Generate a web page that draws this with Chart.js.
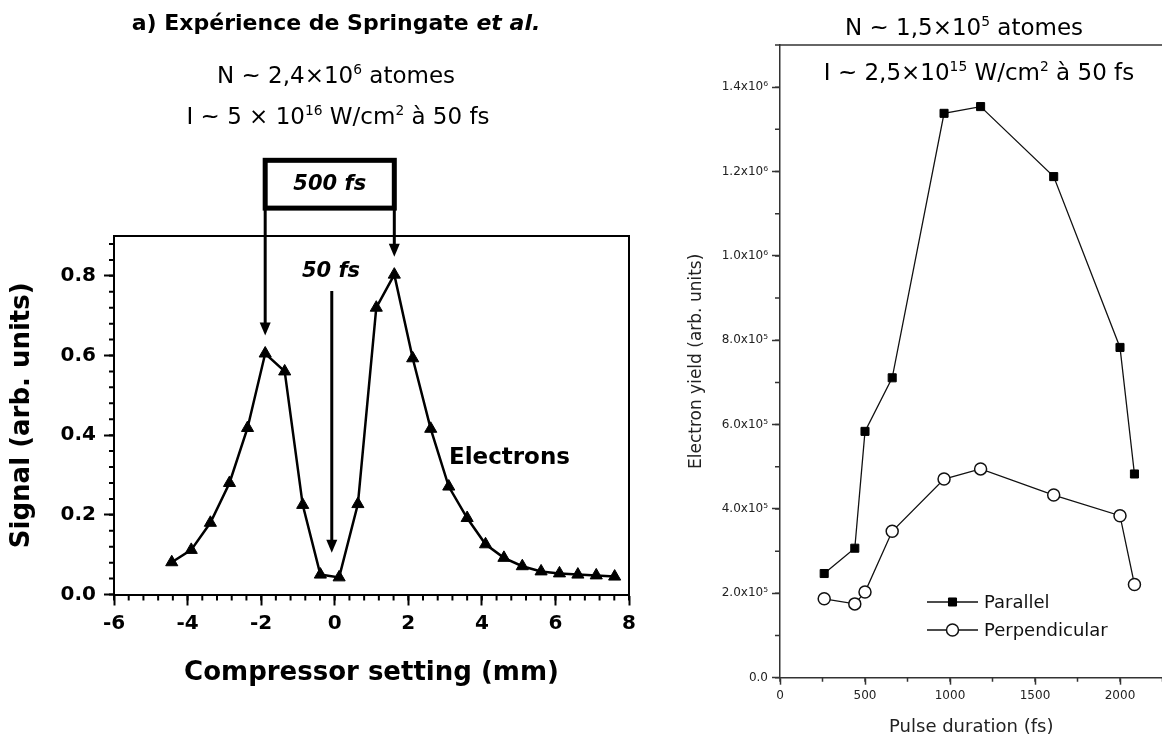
<!DOCTYPE html>
<html><head><meta charset="utf-8">
<script src="https://cdn.jsdelivr.net/npm/chart.js@4.4.1/dist/chart.umd.min.js"></script>
<style>
html,body{margin:0;padding:0;background:#fff;overflow:hidden;width:1162px;height:738px;}
#wrap{position:relative;width:1162px;height:738px;overflow:hidden;background:#fff;}
canvas{position:absolute;top:0;}
#cl{left:0;} #cr{left:660px;}
.t{position:absolute;transform:translate(-50%,-50%);white-space:nowrap;font-family:'DejaVu Sans';color:#000;line-height:1;}
.sup{font-size:0.6em;vertical-align:0.6em;}
</style></head>
<body><div id="wrap">
<canvas id="cl" width="660" height="738"></canvas>
<canvas id="cr" width="510" height="738"></canvas>
<div class="t" style="left:336px;top:23px;font-size:22px;font-weight:bold;">a) Expérience de Springate <i>et al.</i></div>
<div class="t" style="left:336px;top:75px;font-size:23px;">N ~ 2,4×10<span class="sup">6</span> atomes</div>
<div class="t" style="left:338px;top:116px;font-size:23px;">I ~ 5 × 10<span class="sup">16</span> W/cm<span class="sup">2</span> à 50 fs</div>
<div class="t" style="left:964px;top:27px;font-size:23px;">N ~ 1,5×10<span class="sup">5</span> atomes</div>
<div class="t" style="left:979px;top:72px;font-size:23px;">I ~ 2,5×10<span class="sup">15</span> W/cm<span class="sup">2</span> à 50 fs</div>
</div>
<script>
// ---------- Left chart data (Springate) ----------
const compressorSetting = [-4.43,-3.90,-3.38,-2.86,-2.37,-1.89,-1.36,-0.87,-0.39,0.12,0.63,1.13,1.62,2.12,2.61,3.10,3.60,4.10,4.60,5.10,5.61,6.11,6.61,7.11,7.61];
const electronSignal    = [0.081,0.112,0.180,0.280,0.418,0.605,0.560,0.225,0.050,0.043,0.227,0.720,0.803,0.593,0.416,0.271,0.192,0.126,0.092,0.071,0.058,0.053,0.050,0.048,0.045];
const leftXTicks = [-6,-4,-2,0,2,4,6,8];
const leftXLabels = ['-6','-4','-2','0','2','4','6','8'];
const leftYTicks = [0,0.2,0.4,0.6,0.8];
const leftYLabels = ['0.0','0.2','0.4','0.6','0.8'];
const arrowedPoints = [5,12];   // points marked by the "500 fs" arrows

// ---------- Right chart data ----------
const pulseDuration = [260,440,500,660,965,1180,1610,2000,2085];
const parallelYield = [2.47e5,3.07e5,5.84e5,7.11e5,1.338e6,1.354e6,1.188e6,7.83e5,4.83e5];
const perpendicularYield = [1.87e5,1.75e5,2.03e5,3.47e5,4.71e5,4.95e5,4.33e5,3.84e5,2.21e5];
const rightXTicks = [0,500,1000,1500,2000];
const rightXLabels = ['0','500','1000','1500','2000'];
const rightYTicks = [0,2e5,4e5,6e5,8e5,1e6,1.2e6,1.4e6];
const rightYLabels = ['0.0','2.0x10⁵','4.0x10⁵','6.0x10⁵','8.0x10⁵','1.0x10⁶','1.2x10⁶','1.4x10⁶'];

const FF = 'DejaVu Sans';

function frameAndMinor(o){
  return {
    id:'frameMinor',
    afterDraw(chart){
      const {ctx, chartArea:a, scales:{x,y}} = chart;
      ctx.save();
      ctx.strokeStyle = o.color; ctx.lineWidth = o.width;
      ctx.beginPath();
      ctx.moveTo(a.left - o.width/2, a.top); ctx.lineTo(a.right, a.top);
      if (o.right) ctx.lineTo(a.right, a.bottom);
      ctx.stroke();
      ctx.beginPath();
      for (let k = 0; ; k++) {
        const v = x.min + k*o.xStep; if (v > x.max + 1e-9) break;
        const px = x.getPixelForValue(v);
        ctx.moveTo(px, a.bottom); ctx.lineTo(px, a.bottom + o.xLen);
      }
      for (let k = 0; ; k++) {
        const v = y.min + k*o.yStep; if (v > y.max + 1e-9) break;
        const py = y.getPixelForValue(v);
        ctx.moveTo(a.left, py); ctx.lineTo(a.left - o.yLen, py);
      }
      ctx.stroke();
      ctx.restore();
    }
  };
}

function arrow(ctx, x, y0, y1, head, hw){
  ctx.beginPath(); ctx.moveTo(x, y0); ctx.lineTo(x, y1 - head + 1); ctx.stroke();
  ctx.beginPath(); ctx.moveTo(x - hw, y1 - head); ctx.lineTo(x + hw, y1 - head); ctx.lineTo(x, y1); ctx.closePath(); ctx.fill();
}

const boxTop = 1.09, boxBottom = 0.97, tipGap = 0.045;
const annotations = {
  id:'ann',
  afterDatasetsDraw(chart){
    const {ctx, scales:{x,y}} = chart;
    ctx.save();
    ctx.strokeStyle = '#000'; ctx.fillStyle = '#000';
    const xa = x.getPixelForValue(compressorSetting[arrowedPoints[0]]);
    const xb = x.getPixelForValue(compressorSetting[arrowedPoints[1]]);
    const yt = y.getPixelForValue(boxTop), yb = y.getPixelForValue(boxBottom);
    ctx.lineWidth = 5;
    ctx.strokeRect(xa, yt, xb - xa, yb - yt);
    ctx.lineWidth = 3;
    arrowedPoints.forEach(i => {
      arrow(ctx, x.getPixelForValue(compressorSetting[i]), yb, y.getPixelForValue(electronSignal[i] + tipGap), 13, 5.5);
    });
    const x50 = x.getPixelForValue(-0.08);
    arrow(ctx, x50, y.getPixelForValue(0.762), y.getPixelForValue(0.105), 13, 5.5);
    ctx.textAlign = 'center'; ctx.textBaseline = 'middle';
    ctx.font = 'italic bold 21px "DejaVu Sans"';
    ctx.fillText('500 fs', (xa + xb)/2, (yt + yb)/2);
    ctx.fillText('50 fs', x.getPixelForValue(-0.1), y.getPixelForValue(0.812));
    ctx.font = 'bold 23px "DejaVu Sans"';
    ctx.fillText('Electrons', x.getPixelForValue(4.75), y.getPixelForValue(0.343));
    ctx.restore();
  }
};

new Chart(document.getElementById('cl'), {
  type:'line',
  data:{ datasets:[{
    label:'Electrons',
    data: compressorSetting.map((v,i)=>({x:v, y:electronSignal[i]})),
    borderColor:'#000', borderWidth:2.5, pointStyle:'triangle', pointRadius:7,
    pointBackgroundColor:'#000', pointBorderColor:'#000', pointBorderWidth:1, tension:0
  }]},
  options:{
    responsive:false, animation:false, devicePixelRatio:1,
    layout:{padding:{top:236, right:31, bottom:33.5, left:0}},
    plugins:{legend:{display:false}, tooltip:{enabled:false}},
    scales:{
      x:{type:'linear', min:-6, max:8,
        afterBuildTicks:s=>{s.ticks = leftXTicks.map(v=>({value:v}));},
        afterFit:s=>{s.height = 110;},
        grid:{drawOnChartArea:false, drawTicks:true, tickLength:11, tickWidth:2, tickColor:'#000'},
        border:{display:true, color:'#000', width:2},
        ticks:{font:{family:FF, weight:'bold', size:20}, color:'#000', padding:6, maxRotation:0, autoSkip:false, callback:(v,i)=>leftXLabels[i]},
        title:{display:true, text:'Compressor setting (mm)', color:'#000', font:{family:FF, weight:'bold', size:26}, padding:{top:0, bottom:16}}
      },
      y:{min:0, max:0.9,
        afterBuildTicks:s=>{s.ticks = leftYTicks.map(v=>({value:v}));},
        afterFit:s=>{s.width = 114;},
        grid:{drawOnChartArea:false, drawTicks:true, tickLength:10, tickWidth:2, tickColor:'#000'},
        border:{display:true, color:'#000', width:2},
        ticks:{font:{family:FF, weight:'bold', size:20}, color:'#000', padding:8, callback:(v,i)=>leftYLabels[i]},
        title:{display:true, text:'Signal (arb. units)', color:'#000', font:{family:FF, weight:'bold', size:26}, padding:{top:7, bottom:0}}
      }
    }
  },
  plugins:[frameAndMinor({color:'#000', width:2, right:true, xStep:0.4, xLen:6, yStep:0.04, yLen:5}), annotations]
});

const legendPlugin = {
  id:'manualLegend',
  afterDraw(chart){
    const {ctx} = chart;
    ctx.save();
    chart.data.datasets.forEach((ds, i) => {
      const yy = 602 + i*28;
      ctx.strokeStyle = ds.borderColor; ctx.lineWidth = ds.borderWidth;
      ctx.beginPath(); ctx.moveTo(267, yy); ctx.lineTo(318, yy); ctx.stroke();
      ctx.fillStyle = ds.pointBackgroundColor; ctx.strokeStyle = ds.pointBorderColor; ctx.lineWidth = ds.pointBorderWidth;
      Chart.helpers.drawPoint(ctx, {pointStyle: ds.pointStyle, radius: ds.pointRadius, borderWidth: ds.pointBorderWidth, rotation:0}, 292.5, yy);
      ctx.fillStyle = '#111'; ctx.font = '18px "DejaVu Sans"'; ctx.textAlign='left'; ctx.textBaseline='middle';
      ctx.fillText(ds.label, 324, yy + 1);
    });
    ctx.restore();
  }
};

new Chart(document.getElementById('cr'), {
  type:'line',
  data:{ datasets:[
    {label:'Parallel', data: pulseDuration.map((v,i)=>({x:v, y:parallelYield[i]})),
     borderColor:'#111', borderWidth:1.3, pointStyle:'rect', pointRadius:5.7,
     pointBackgroundColor:'#000', pointBorderColor:'#000', pointBorderWidth:1, tension:0},
    {label:'Perpendicular', data: pulseDuration.map((v,i)=>({x:v, y:perpendicularYield[i]})),
     borderColor:'#111', borderWidth:1.3, pointStyle:'circle', pointRadius:6,
     pointBackgroundColor:'#fff', pointBorderColor:'#111', pointBorderWidth:1.5, tension:0}
  ]},
  options:{
    responsive:false, animation:false, devicePixelRatio:1,
    layout:{padding:{top:45, right:6.7, bottom:0.3, left:0}},
    plugins:{legend:{display:false}, tooltip:{enabled:false}},
    scales:{
      x:{type:'linear', min:0, max:2250,
        afterBuildTicks:s=>{s.ticks = rightXTicks.map(v=>({value:v}));},
        afterFit:s=>{s.height = 60;},
        grid:{drawOnChartArea:false, drawTicks:true, tickLength:7, tickWidth:1.5, tickColor:'#333'},
        border:{display:true, color:'#333', width:1.5},
        ticks:{font:{family:FF, size:12}, color:'#222', padding:4, maxRotation:0, autoSkip:false, callback:(v,i)=>rightXLabels[i]},
        title:{display:true, text:'Pulse duration (fs)', color:'#222', font:{family:FF, size:18}, padding:{top:0, bottom:0}}
      },
      y:{min:0, max:1.5e6,
        afterBuildTicks:s=>{s.ticks = rightYTicks.map(v=>({value:v}));},
        afterFit:s=>{s.width = 120;},
        grid:{drawOnChartArea:false, drawTicks:true, tickLength:8, tickWidth:1.5, tickColor:'#333'},
        border:{display:true, color:'#333', width:1.5},
        ticks:{font:{family:FF, size:12}, color:'#222', padding:4, callback:(v,i)=>rightYLabels[i]},
        title:{display:true, text:'Electron yield (arb. units)', color:'#222', font:{family:FF, size:17}, padding:{top:26, bottom:0}}
      }
    }
  },
  plugins:[frameAndMinor({color:'#333', width:1.5, right:false, xStep:250, xLen:4, yStep:1e5, yLen:5}), legendPlugin]
});
</script>
</body></html>
